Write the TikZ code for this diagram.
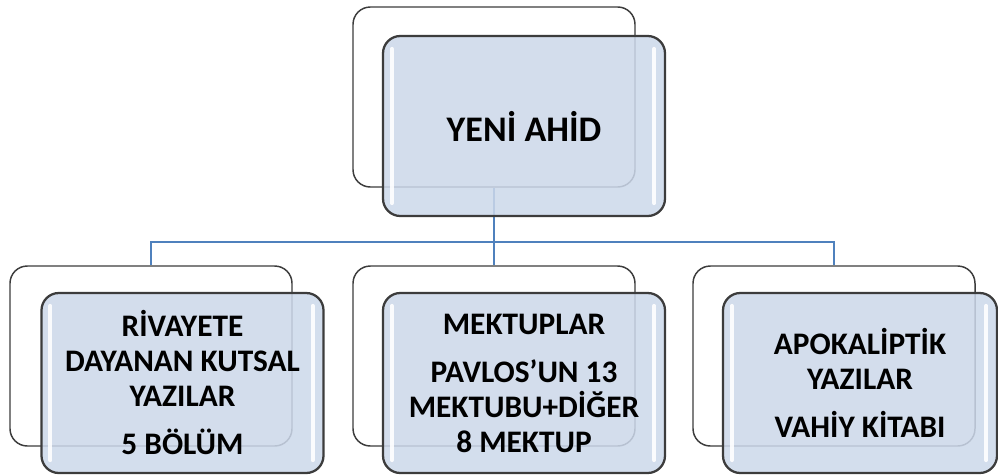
\documentclass[tikz,border=0pt]{standalone}
\usepackage{fontspec}
\setmainfont{Carlito}
\usetikzlibrary{calc}
\definecolor{boxline}{RGB}{60,60,60}
\definecolor{boxfill}{RGB}{204,216,234}
\definecolor{connc}{RGB}{79,129,189}
\begin{document}
\begin{tikzpicture}[x=0.75pt,y=-0.75pt,
  backbox/.style={draw=boxline, line width=1.1pt, fill=white, rounded corners=13pt,
    minimum width=211.5pt, minimum height=135pt, inner sep=0pt},
  frontbox/.style={draw=boxline, line width=1.7pt, fill=boxfill, fill opacity=0.86,
    text opacity=1, rounded corners=13pt, minimum width=211.5pt, minimum height=135pt,
    inner sep=0pt, align=center, font=\bfseries\fontsize{23.5}{26.25}\selectfont},
  hl/.style={white, line width=3pt, line cap=round, opacity=0.9},
  connline/.style={draw=connc, line width=1.6pt}]
\useasboundingbox (0,0) rectangle (998,475);
% back boxes
\node[backbox] (b0) at (494,97) {};
\node[backbox] (b1) at (151,356) {};
\node[backbox] (b2) at (494,356) {};
\node[backbox] (b3) at (834,356) {};
% connectors
\coordinate (bus) at (494,242);
\draw[connline] (b0.south) -- (bus);
\draw[connline] (bus) -| (b1.north);
\draw[connline] (bus) -- (b2.north);
\draw[connline] (bus) -| (b3.north);
% front boxes
\node[frontbox, font=\bfseries\fontsize{27}{32}\selectfont] (f0) at (524,126) {YENİ AHİD};
\node[frontbox] (f1) at (182.5,383) {RİVAYETE\\DAYANAN KUTSAL\\YAZILAR\\[9.75pt]5 BÖLÜM};
\node[frontbox] (f2) at (524,383) {MEKTUPLAR\\[9.75pt]PAVLOS’UN 13\\MEKTUBU+DİĞER\\8 MEKTUP};
\node[frontbox, minimum width=205.5pt] (f3) at (860,383) {APOKALİPTİK\\YAZILAR\\[9.75pt]VAHİY KİTABI};
% highlights
\foreach \n in {f0,f1,f2,f3}{
  \draw[hl] ($(\n.north west)+(10,14)$) -- ($(\n.south west)+(10,-14)$);
  \draw[hl] ($(\n.north east)+(-12,14)$) -- ($(\n.south east)+(-12,-14)$);
}
\end{tikzpicture}
\end{document}
